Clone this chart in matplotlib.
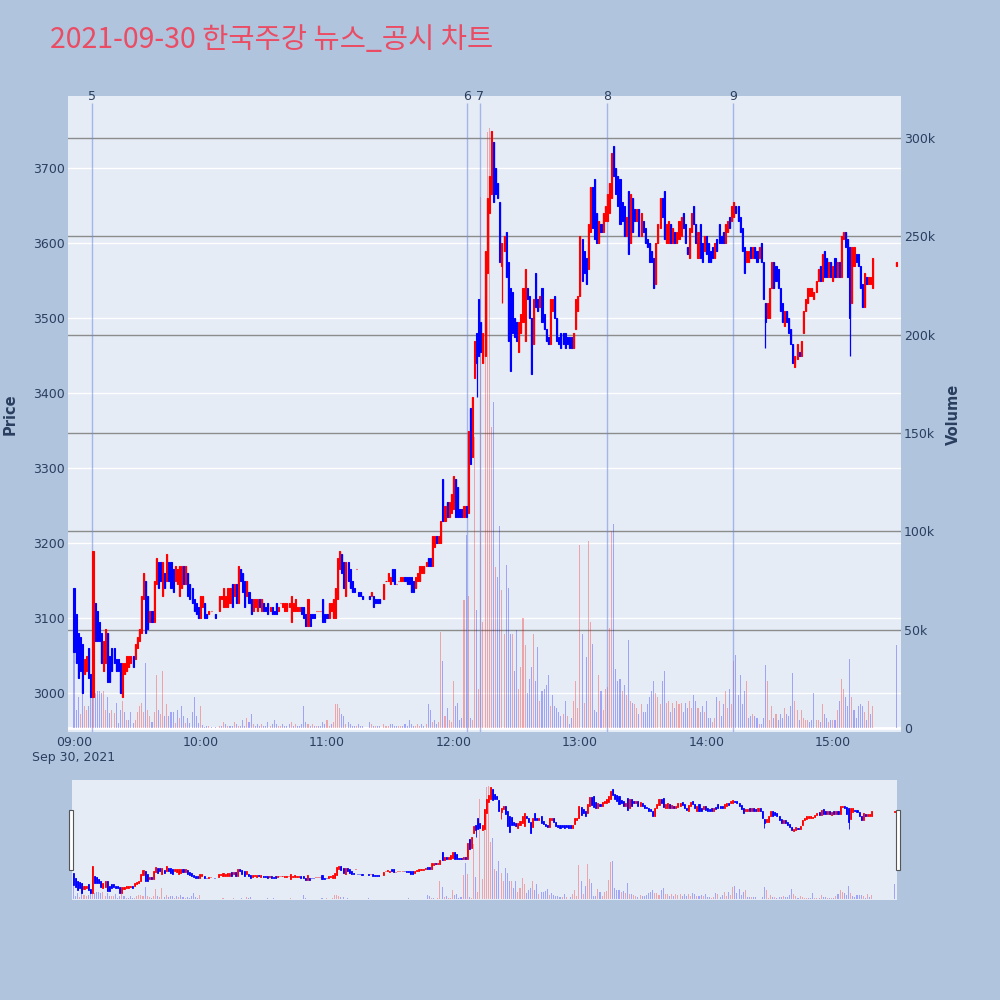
import numpy as np
import pandas as pd
import matplotlib
matplotlib.use("Agg")
import matplotlib.pyplot as plt
from matplotlib.patches import Rectangle

title = "2021-09-30 한국주강 뉴스_공시 차트"
session_start = "2021-09-30 09:00"

# one (open, close) pair per minute, None = no trade in that minute
oc_09 = [(3140, 3055), (3105, 3040), (3080, 3020), (3075, 3030), (3065, 3000), (3025, 3045), (3030, 3050), (3060, 3020), (3025, 2995), (2995, 3190),
         (3120, 3070), (3110, 3070), (3095, 3070), (3080, 3040), (3030, 3070), (3040, 3085), (3080, 3015), (3050, 3015), (3060, 3030), (3060, 3040),
         (3045, 3030), (3045, 3030), (3040, 3000), (2995, 3040), (3025, 3040), (3030, 3050), (3035, 3050), (3040, 3050), (3050, 3035), (3045, 3065),
         (3060, 3075), (3070, 3085), (3080, 3130), (3125, 3160), (3150, 3080), (3130, 3085), (3095, 3110), (3110, 3095), (3095, 3150), (3145, 3180),
         (3175, 3140), (3175, 3150), (3130, 3175), (3160, 3140), (3150, 3185), (3175, 3150), (3175, 3140), (3165, 3135), (3150, 3170), (3145, 3165),
         (3130, 3170), (3140, 3170), (3170, 3145), (3145, 3170), (3160, 3130), (3145, 3125), (3140, 3120), (3125, 3110), (3120, 3105), (3115, 3100)]
oc_10 = [(3100, 3130), (3115, 3130), (3120, 3100), (3105, 3100), (3105, 3110), (3110, 3110), None, (3105, 3100), None, (3110, 3130),
         (3125, 3130), (3115, 3140), (3115, 3130), (3115, 3140), (3120, 3140), (3145, 3115), (3130, 3145), (3145, 3120), (3120, 3170), (3165, 3150),
         (3160, 3135), (3150, 3115), (3130, 3150), (3135, 3120), (3125, 3105), (3110, 3125), (3115, 3125), (3110, 3125), (3125, 3115), (3110, 3125),
         (3120, 3110), (3115, 3110), (3120, 3105), (3110, 3115), (3115, 3105), (3110, 3105), (3120, 3105), (3110, 3115), (3120, 3120), (3115, 3120),
         (3110, 3120), (3110, 3120), (3115, 3120), (3095, 3130), (3110, 3120), (3110, 3125), (3110, 3115), (3110, 3115), (3115, 3105), (3115, 3100),
         (3105, 3090), (3090, 3125), (3105, 3090), (3105, 3100), (3105, 3100), (3110, 3110), (3110, 3110), (3110, 3110), (3125, 3095), (3105, 3095)]
oc_11 = [(3105, 3100), (3100, 3120), (3110, 3120), (3100, 3125), (3100, 3140), (3125, 3180), (3165, 3190), (3185, 3160), (3175, 3140), (3130, 3175),
         (3175, 3150), (3165, 3140), (3150, 3135), (3140, 3135), (3165, 3165), (3135, 3130), (3135, 3130), (3130, 3125), None, None,
         (3130, 3125), (3130, 3135), (3130, 3115), (3125, 3120), (3125, 3120), (3125, 3120), None, (3125, 3145), (3150, 3150), (3150, 3160),
         (3145, 3155), (3165, 3150), (3165, 3145), (3145, 3145), (3150, 3150), (3150, 3155), (3150, 3155), (3155, 3150), (3155, 3145), (3155, 3145),
         (3155, 3135), (3150, 3135), (3140, 3155), (3150, 3160), (3150, 3170), (3160, 3170), (3160, 3170), (3170, 3175), (3180, 3170), (3180, 3170),
         (3170, 3210), (3195, 3210), (3210, 3200), (3200, 3210), (3200, 3230), (3285, 3230), (3230, 3250), (3255, 3235), (3235, 3255), (3240, 3265)]
oc_12 = [(3245, 3290), (3285, 3235), (3275, 3235), (3245, 3235), (3245, 3235), (3235, 3250), (3250, 3235), (3240, 3350), (3380, 3305), (3315, 3395),
         (3420, 3470), (3480, 3440), (3525, 3450), (3495, 3455), (3440, 3480), (3450, 3590), (3560, 3660), (3640, 3690), (3665, 3750), (3735, 3655),
         (3700, 3665), (3680, 3660), (3655, 3575), (3570, 3600), (3590, 3610), (3615, 3555), (3575, 3470), (3540, 3430), (3535, 3480), (3500, 3475),
         (3495, 3470), (3455, 3495), (3480, 3505), (3495, 3540), (3470, 3565), (3540, 3525), (3530, 3500), (3500, 3425), (3465, 3525), (3560, 3515),
         (3525, 3510), (3515, 3530), (3540, 3495), (3505, 3485), (3485, 3470), (3475, 3465), (3465, 3525), (3510, 3525), (3530, 3500), (3500, 3470),
         (3475, 3465), (3480, 3460), (3480, 3465), (3480, 3460), (3475, 3465), (3475, 3460), (3475, 3460), (3460, 3480), (3485, 3525), (3510, 3530)]
oc_13 = [(3530, 3610), (3605, 3550), (3590, 3560), (3580, 3545), (3565, 3625), (3615, 3675), (3675, 3620), (3685, 3605), (3640, 3600), (3600, 3630),
         (3625, 3615), (3615, 3640), (3630, 3650), (3630, 3665), (3640, 3680), (3660, 3720), (3730, 3690), (3700, 3665), (3690, 3650), (3685, 3625),
         (3655, 3630), (3650, 3610), (3610, 3635), (3670, 3585), (3600, 3665), (3660, 3615), (3645, 3630), (3630, 3645), (3645, 3610), (3610, 3640),
         (3630, 3615), (3620, 3600), (3605, 3595), (3600, 3575), (3590, 3575), (3580, 3540), (3545, 3600), (3600, 3625), (3620, 3660), (3660, 3635),
         (3670, 3605), (3600, 3625), (3600, 3630), (3625, 3600), (3600, 3620), (3615, 3600), (3600, 3615), (3605, 3630), (3610, 3635), (3640, 3620),
         (3625, 3600), (3595, 3585), (3580, 3620), (3615, 3640), (3650, 3625), (3625, 3600), (3580, 3615), (3625, 3580), (3600, 3575), (3590, 3610)]
oc_14 = [(3610, 3585), (3600, 3575), (3590, 3575), (3595, 3580), (3580, 3600), (3605, 3590), (3625, 3600), (3610, 3600), (3615, 3600), (3600, 3625),
         (3615, 3630), (3635, 3620), (3630, 3650), (3635, 3655), (3650, 3640), (3650, 3630), (3635, 3615), (3620, 3590), (3595, 3560), (3575, 3590),
         (3575, 3590), (3595, 3580), (3580, 3595), (3595, 3580), (3590, 3575), (3580, 3595), (3600, 3575), (3575, 3525), (3520, 3495), (3500, 3520),
         (3500, 3540), (3540, 3575), (3575, 3540), (3570, 3550), (3565, 3540), (3540, 3510), (3520, 3495), (3490, 3510), (3510, 3495), (3500, 3480),
         (3485, 3465), (3465, 3440), (3435, 3450), (3445, 3465), (3455, 3450), (3450, 3470), (3480, 3510), (3510, 3525), (3520, 3540), (3530, 3540),
         (3530, 3540), (3525, 3535), (3535, 3550), (3550, 3565), (3570, 3550), (3550, 3585), (3590, 3555), (3580, 3555), (3555, 3575), (3575, 3555)]
oc_15 = [(3550, 3570), (3580, 3555), (3555, 3575), (3575, 3555), (3555, 3610), (3605, 3615), (3615, 3595), (3605, 3555), (3595, 3500), (3520, 3595),
         (3570, 3595), (3585, 3575), (3585, 3570), (3570, 3540), (3545, 3515), (3515, 3560), (3555, 3545), (3545, 3555), (3545, 3555), (3540, 3580)]

# volume per minute, thousand shares
vol_09 = [38, 9, 16, 7, 36, 11, 9, 11, 26, 16, 18, 19, 19, 18, 19, 9, 16, 7.5, 9, 7.5,
          13, 2.4, 9, 14, 8, 4, 4, 8, 2.4, 4, 8, 11, 12.5, 8, 33, 9, 6, 3, 8, 27,
          9, 7, 29, 6, 12, 6, 8, 8, 2.4, 9, 5, 11, 6, 2.4, 5, 2.4, 8, 16, 6, 2.4]
vol_10 = [11, 1.5, 0.7, 1, 1, 0.5, 0, 0.5, 0, 1, 1, 3, 2, 1, 1, 1, 3, 2, 1, 1,
          4, 1, 5, 3, 7, 2, 1, 2, 1, 2, 1, 1, 3, 1, 2, 4, 2, 1, 1, 2,
          1, 1, 2, 3, 1, 2, 1, 1, 2, 11, 3, 2, 1, 2, 1, 1, 1, 1, 3, 2]
vol_11 = [4, 1, 2, 3, 12, 12, 10, 7, 6, 2, 3, 2, 1, 1, 1, 2, 1, 1, 0, 0,
          3, 2, 1, 1, 1, 1, 0, 2, 1, 1, 2, 2, 1, 1, 1, 1, 1, 2, 1, 4,
          2, 1, 1, 2, 1, 2, 1, 2, 12, 9, 3, 4, 2, 3, 49, 34, 6, 10, 4, 3]
vol_12 = [24, 11, 13, 4, 5, 65, 98, 67, 5, 4, 148, 60, 20, 270, 54, 192, 303, 305, 153, 166,
          82, 77, 103, 70, 48, 83, 71, 48, 48, 29, 50, 20, 31, 56, 42, 18, 25, 31, 48, 24,
          41, 14, 19, 20, 22, 27, 11, 17, 11, 10, 8, 6, 7, 14, 6, 2, 5, 14, 24, 10]
vol_13 = [93, 48, 13, 36, 95, 54, 43, 9, 8, 27, 19, 9, 20, 21, 51, 100, 104, 30, 24, 25,
          19, 22, 17, 45, 14, 13, 12, 10, 7, 12, 8, 8, 12, 16, 19, 24, 18, 16, 12, 24,
          29, 13, 14, 8, 13, 10, 14, 12, 13, 8, 13, 10, 14, 10, 17, 14, 10, 8, 11, 8]
vol_14 = [14, 5, 5, 3, 5, 16, 14, 6, 12, 19, 10, 20, 12, 34, 37, 17, 27, 12, 19, 24,
          5, 6, 7, 6, 5, 2, 2, 5, 32, 24, 4, 11, 5, 7, 4, 7, 5, 10, 7, 6,
          11, 28, 14, 9, 4, 9, 5, 4, 4, 3, 4, 18, 4, 4, 3, 12, 7, 5, 3, 4]
vol_15 = [4, 4, 9, 14, 25, 20, 16, 11, 35, 16, 9, 5, 11, 12, 11, 8, 4, 14, 7, 11]

# long lower shadows
wick_low = {"12:11": 3395, "12:23": 3520, "14:28": 3460, "15:08": 3450}

# closing auction
auction_time = "15:30"
auction_oc = (3570, 3575)
auction_vol = 42

news_labels = ["5", "6", "7", "8", "9"]
news_times = ["09:08:30", "12:06:30", "12:12:30", "13:12:50", "14:12:30"]

price_ticks = [3000, 3100, 3200, 3300, 3400, 3500, 3600, 3700]
vol_ticks = [0, 50, 100, 150, 200, 250, 300]
vol_tick_labels = ["0", "50k", "100k", "150k", "200k", "250k", "300k"]
hour_labels = ["09:00", "10:00", "11:00", "12:00", "13:00", "14:00", "15:00"]

# ---------------------------------------------------------------------------
day = session_start.split()[0]
t0 = pd.Timestamp(session_start)
minute_oc = oc_09 + oc_10 + oc_11 + oc_12 + oc_13 + oc_14 + oc_15
minute_vol = vol_09 + vol_10 + vol_11 + vol_12 + vol_13 + vol_14 + vol_15
times = list(pd.date_range(t0, periods=len(minute_oc), freq="min"))
times.append(pd.Timestamp(f"{day} {auction_time}"))
oc_all = minute_oc + [auction_oc]
vol_all = minute_vol + [auction_vol]


def to_min(t):
    return (pd.Timestamp(t) - t0).total_seconds() / 60


xs, o, c, v, stamps = [], [], [], [], []
for t, pair, vv in zip(times, oc_all, vol_all):
    if pair is None:
        continue
    xs.append(to_min(t))
    o.append(pair[0])
    c.append(pair[1])
    v.append(vv)
    stamps.append(t.strftime("%H:%M"))
xs = np.array(xs)
o = np.array(o, float)
c = np.array(c, float)
v = np.array(v, float)
lo = np.minimum(o, c)
hi = np.maximum(o, c)
for k, val in wick_low.items():
    lo[stamps.index(k)] = val

RED, BLUE = "#ff0000", "#0000ff"
ccol, vcol = [], []
prev = None
for oo, cc in zip(o, c):
    if cc > oo:
        ccol.append(RED)
    elif cc < oo:
        ccol.append(BLUE)
    else:
        ccol.append(RED if prev is None or cc >= prev else BLUE)
    if prev is None:
        vcol.append(ccol[-1])
    else:
        vcol.append(RED if cc > prev else BLUE)
    prev = cc

P_LIM = (2948, 3796)
V_LIM = (-2.0, 321.4)
TXT = "#2a3f5f"
BG = "#e5ecf6"


def draw(axp, axv, body_w, body_lw, wick_lw):
    axv.bar(xs, v, width=0.5, color=vcol, alpha=0.3, linewidth=0, zorder=2)
    axp.vlines(xs, lo, hi, colors=ccol, lw=wick_lw, zorder=3)
    axp.bar(xs, np.abs(c - o), bottom=np.minimum(o, c), width=body_w,
            color=ccol, edgecolor=ccol, linewidth=body_lw, zorder=4)


fig = plt.figure(figsize=(10, 10), dpi=100, facecolor="#b0c4de")

# main chart
ax_v = fig.add_axes([0.068, 0.268, 0.833, 0.636], facecolor=BG)
ax_p = ax_v.twinx()
ax_v.set_ylim(*V_LIM)
ax_p.set_ylim(*P_LIM)
ax_v.set_xlim(-2.85, 392.3)

for p in price_ticks:
    yv = V_LIM[0] + (p - P_LIM[0]) * (V_LIM[1] - V_LIM[0]) / (P_LIM[1] - P_LIM[0])
    ax_v.axhline(yv, color="white", lw=1.0, zorder=0.5)
for vt in vol_ticks[1:]:
    ax_v.axhline(vt, color="#8c8c8c", lw=1.0, zorder=1)
ax_v.axhline(0, color="white", lw=2, zorder=1)

draw(ax_p, ax_v, 0.5, 0.8, 0.9)

for lab, tm in zip(news_labels, news_times):
    xm = to_min(pd.Timestamp(f"{day} {tm}"))
    ax_p.vlines(xm, 0, 0.989, transform=ax_p.get_xaxis_transform(),
                color="#7088dd", alpha=0.55, lw=1.0, zorder=1)
    ax_p.text(xm, 1.0, lab, transform=ax_p.get_xaxis_transform(), ha="center",
              va="center", fontsize=9, color=TXT)

for a in (ax_v, ax_p):
    for s in a.spines.values():
        s.set_visible(False)

ax_v.yaxis.set_ticks_position("right")
ax_v.yaxis.set_label_position("right")
ax_v.set_yticks(vol_ticks, vol_tick_labels)
ax_v.tick_params(axis="y", length=0, pad=2, labelsize=9, labelcolor=TXT)
ax_p.yaxis.set_ticks_position("left")
ax_p.yaxis.set_label_position("left")
ax_p.set_yticks(price_ticks, [str(p) for p in price_ticks])
ax_p.tick_params(axis="y", length=0, pad=2, labelsize=9, labelcolor=TXT)

hour_x = [to_min(pd.Timestamp(f"{day} {h}")) for h in hour_labels]
ax_v.set_xticks(hour_x, hour_labels)
ax_v.tick_params(axis="x", length=0, pad=3, labelsize=9, labelcolor=TXT)
fig.text(0.0735, 0.243, t0.strftime("%b %d, %Y").replace(" 0", " "), ha="center",
         va="center", fontsize=9, color=TXT)

fig.text(0.010, 0.586, "Price", rotation=90, ha="center", va="center",
         fontsize=10.5, fontweight="bold", color=TXT)
fig.text(0.953, 0.586, "Volume", rotation=90, ha="center", va="center",
         fontsize=10.5, fontweight="bold", color=TXT)
fig.text(0.050, 0.960, title, ha="left", va="center", fontsize=20.5, color="#ea4c64",
         family=["Noto Sans CJK KR", "DejaVu Sans"])

# range slider
ax_sv = fig.add_axes([0.072, 0.100, 0.825, 0.120], facecolor=BG)
ax_sp = ax_sv.twinx()
ax_sv.set_ylim(*V_LIM)
ax_sp.set_ylim(*P_LIM)
ax_sv.set_xlim(-0.7, 391)
draw(ax_sp, ax_sv, 0.5, 0.6, 0.6)
for a in (ax_sv, ax_sp):
    a.set_xticks([])
    a.set_yticks([])
    for s in a.spines.values():
        s.set_visible(False)
for hx in (0.0685, 0.8955):
    fig.add_artist(Rectangle((hx, 0.130), 0.004, 0.060, transform=fig.transFigure,
                             facecolor="white", edgecolor="#555555", lw=0.8))

fig.savefig("out.png", dpi=100, facecolor=fig.get_facecolor())
